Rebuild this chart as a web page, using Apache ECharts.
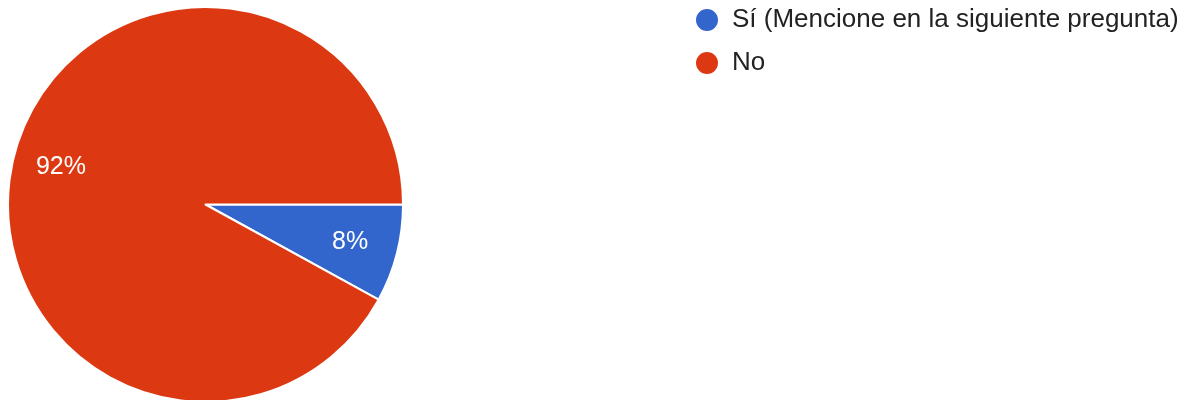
<!DOCTYPE html>
<html>
<head>
<meta charset="utf-8">
<script src="https://cdn.jsdelivr.net/npm/echarts@6/dist/echarts.min.js"></script>
<style>
  html, body { margin: 0; padding: 0; background: #ffffff; }
  #chart { width: 1196px; height: 400px; }
</style>
</head>
<body>
<div id="chart"></div>
<script>
// 数据
const categories = ['Sí (Mencione en la siguiente pregunta)', 'No'];
const percentages = [8, 92];
const sliceColors = ['#3366cc', '#dc3912'];

const fontFamily = '"Liberation Sans", Arial, sans-serif';

const chart = echarts.init(document.getElementById('chart'));

const pieData = categories.map((name, i) => ({
    name: name,
    value: percentages[i],
    itemStyle: { color: sliceColors[i] }
}));

// 透明的覆盖层，只用来把百分比标签放在更靠外的位置
const labelData = categories.map((name, i) => ({
    name: name,
    value: percentages[i]
}));

chart.setOption({
    animation: false,
    legend: {
        orient: 'vertical',
        left: 689,
        top: 2,
        icon: 'circle',
        itemWidth: 24,
        itemHeight: 24,
        itemGap: 17,
        data: categories,
        textStyle: {
            fontFamily: fontFamily,
            fontSize: 26,
            lineHeight: 24,
            color: '#222222',
            padding: [0, 0, 0, 8]
        }
    },
    series: [
        {
            name: 'respuestas',
            type: 'pie',
            center: [205.5, 204.5],
            radius: 197.5,
            startAngle: 0,
            clockwise: true,
            data: pieData,
            label: { show: false },
            labelLine: { show: false },
            itemStyle: { borderColor: '#ffffff', borderWidth: 2 },
            emphasis: { disabled: true }
        },
        {
            name: 'etiquetas',
            type: 'pie',
            center: [205.5, 204.5],
            radius: [95, 197.5],
            startAngle: 0,
            clockwise: true,
            silent: true,
            data: labelData,
            itemStyle: { color: 'rgba(0,0,0,0)', borderWidth: 0 },
            label: {
                show: true,
                position: 'inside',
                formatter: '{c}%',
                color: '#ffffff',
                fontFamily: fontFamily,
                fontSize: 25
            },
            labelLine: { show: false },
            emphasis: { disabled: true }
        }
    ]
});

window.addEventListener('resize', function() {
    chart.resize();
});
</script>
</body>
</html>
